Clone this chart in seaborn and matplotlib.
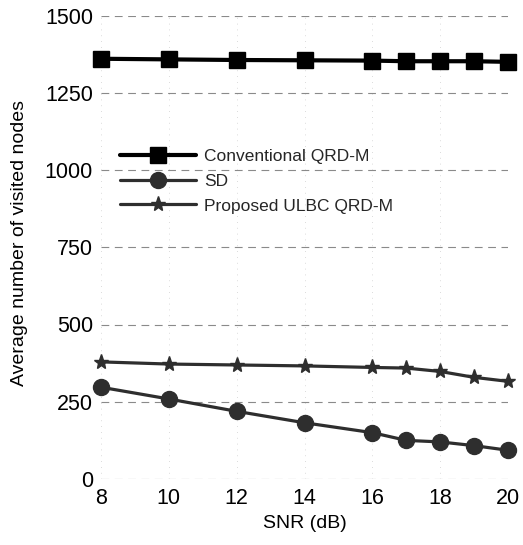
import numpy as np
import pandas as pd
import matplotlib
matplotlib.use("Agg")
import matplotlib.pyplot as plt
import seaborn as sns

snr = [8, 10, 12, 14, 16, 17, 18, 19, 20]
conventional = [1360, 1358, 1356, 1355, 1354, 1352, 1352, 1352, 1350]
sd = [297, 259, 219, 182, 150, 125, 120, 108, 93]
proposed = [379, 372, 369, 366, 361, 359, 348, 329, 316]
series_names = ["Conventional QRD-M", "SD", "Proposed ULBC QRD-M"]
x_ticks = [8, 10, 12, 14, 16, 18, 20]
y_ticks = [0, 250, 500, 750, 1000, 1250, 1500]

df = pd.DataFrame({
    "snr": snr * 3,
    "value": conventional + sd + proposed,
    "series": [series_names[0]] * len(snr) + [series_names[1]] * len(snr) + [series_names[2]] * len(snr),
})

sns.set_theme(style="white")
plt.rcParams['font.family'] = ['Liberation Sans', 'DejaVu Sans']

W, H = 523, 545
fig = plt.figure(figsize=(W / 100, H / 100), dpi=100)
ax = fig.add_axes([101 / W, 1 - 479 / H, (508 - 101) / W, (479 - 15.5) / H])

colors = {series_names[0]: "#000000", series_names[1]: "#2e2e2e", series_names[2]: "#2e2e2e"}
markers = {series_names[0]: "s", series_names[1]: "o", series_names[2]: "*"}
msizes = {series_names[0]: 11, series_names[1]: 11.5, series_names[2]: 11}
lws = {series_names[0]: 3.0, series_names[1]: 2.3, series_names[2]: 2.3}

for name in series_names:
    sub = df[df["series"] == name]
    sns.lineplot(data=sub, x="snr", y="value", ax=ax, color=colors[name],
                 marker=markers[name], markersize=msizes[name], linewidth=lws[name],
                 markeredgecolor=colors[name], markeredgewidth=1.0, label=name, clip_on=False)

ax.set_xlim(8, 20)
ax.set_ylim(0, 1500)
ax.set_xticks(x_ticks)
ax.set_yticks(y_ticks)
ax.tick_params(axis='both', labelsize=15.5, length=0, colors="#000000")
ax.tick_params(axis='y', pad=5.8)
ax.tick_params(axis='x', pad=6.5)
ax.set_xlabel("SNR (dB)", fontsize=14, labelpad=4.5, color="#000000")
ax.set_ylabel("Average number of visited nodes", fontsize=14, color="#000000")
ax.yaxis.set_label_coords(-(101 - 28) / (508 - 101), (479 - 243) / (479 - 15.5))
ax.yaxis.grid(True, linestyle=(0, (7, 5)), color="#8a8a8a", linewidth=0.8)
ax.xaxis.grid(True, linestyle=(0, (1, 6)), color="#cfcfcf", linewidth=0.6)
for s in ax.spines.values():
    s.set_visible(False)

leg = ax.legend(loc="upper left", bbox_to_anchor=(120 / W, 1 - 149 / H), bbox_transform=fig.transFigure,
                frameon=False, fontsize=12.5, handlelength=4.4, handletextpad=0.45,
                labelspacing=0.55, borderpad=0, borderaxespad=0)

fig.savefig("out.png", dpi=100)
